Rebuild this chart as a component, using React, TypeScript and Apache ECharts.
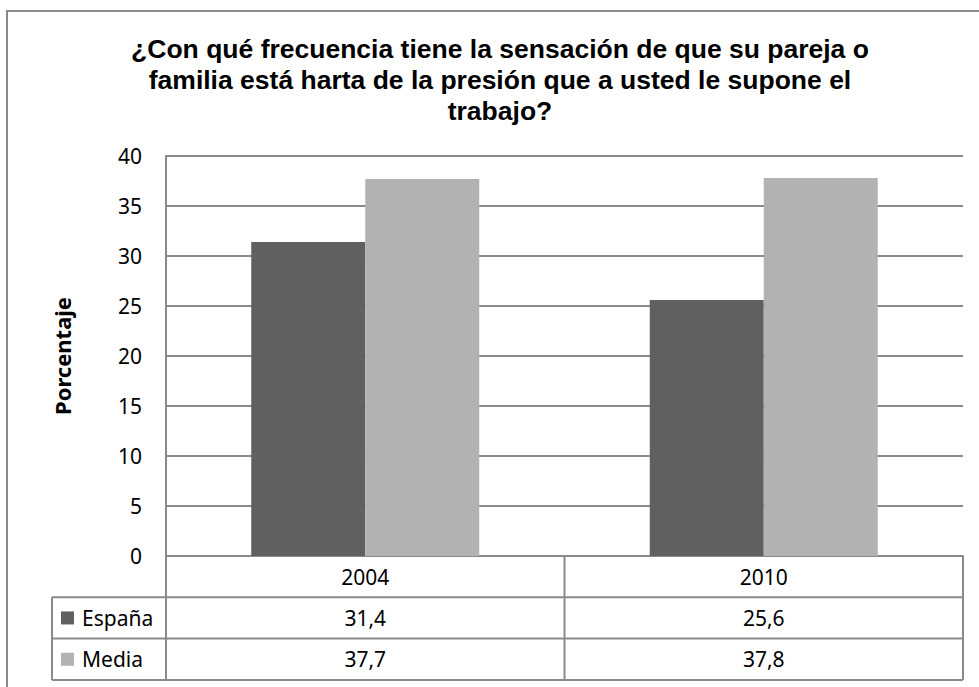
import React, { useEffect, useRef } from "react";
import * as echarts from "echarts";

const categories = ["2004", "2010"];
const seriesNames = ["España", "Media"];
const espana = [31.4, 25.6];
const media = [37.7, 37.8];
const tableValues = [["31,4", "25,6"], ["37,7", "37,8"]];
const yTicks = { min: 0, max: 40, interval: 5 };
const titleLines = [
  "¿Con qué frecuencia tiene la sensación de que su pareja o",
  "familia está harta de la presión que a usted le supone el",
  "trabajo?",
];
const colors = ["#606060", "#b2b2b2"];
const LINE = "#8a8a8a";
const FONT = "Noto Sans";

export default function App() {
  const ref = useRef<HTMLDivElement>(null);
  useEffect(() => {
    if (!ref.current) return;
    const chart = echarts.init(ref.current, null, { renderer: "svg" });
    const gridLeft = 166, gridTop = 156, gridRight = 16, gridBottom = 131;
    chart.setOption({
      animation: false,
      grid: { left: gridLeft, top: gridTop, right: gridRight, bottom: gridBottom, containLabel: false },
      xAxis: {
        type: "category",
        data: categories,
        axisLine: { show: true, lineStyle: { color: LINE, width: 2 } },
        axisTick: { show: false },
        axisLabel: { show: true, color: "#000", fontFamily: FONT, fontSize: 21, margin: 10 },
      },
      yAxis: {
        type: "value",
        min: yTicks.min,
        max: yTicks.max,
        interval: yTicks.interval,
        name: "Porcentaje",
        nameLocation: "middle",
        nameRotate: 90,
        nameGap: 93,
        nameTextStyle: { fontFamily: FONT, fontSize: 22, fontWeight: "bold", color: "#000" },
        axisLine: { show: true, lineStyle: { color: LINE, width: 2 } },
        axisTick: { show: false },
        splitLine: { show: true, lineStyle: { color: LINE, width: 2 } },
        axisLabel: { color: "#000", fontFamily: FONT, fontSize: 21, margin: 24 },
      },
      series: [
        { name: seriesNames[0], type: "bar", data: espana, barWidth: 114, barGap: "0%", itemStyle: { color: colors[0] } },
        { name: seriesNames[1], type: "bar", data: media, barWidth: 114, barGap: "0%", itemStyle: { color: colors[1] } },
      ],
    });

    const c0 = chart.convertToPixel({ xAxisIndex: 0 }, categories[0]) as number;
    const c1 = chart.convertToPixel({ xAxisIndex: 0 }, categories[1]) as number;
    const half = (c1 - c0) / 2;
    const xs = categories.map((c) => chart.convertToPixel({ xAxisIndex: 0 }, c) as number);
    const left = c0 - half;
    const right = c1 + half;
    const mid = c0 + half;
    const y0 = chart.convertToPixel({ yAxisIndex: 0 }, 0) as number;
    const rowH = 41.3;
    const tableLeft = 52;
    const ln = (x1: number, y1: number, x2: number, y2: number) => ({
      type: "line",
      shape: { x1, y1, x2, y2 },
      style: { stroke: LINE, lineWidth: 2 },
      silent: true,
    });
    const graphics: any[] = [];
    graphics.push({
      type: "rect",
      shape: { x: 7, y: 11, width: 1000, height: 700 },
      style: { fill: "none", stroke: LINE, lineWidth: 2 },
      silent: true,
    });
    titleLines.forEach((t, i) => {
      graphics.push({
        type: "text",
        x: 500,
        y: 49 + i * 31,
        style: {
          text: t,
          fontFamily: "Liberation Sans",
          fontWeight: "bold",
          fontSize: 26.5,
          fill: "#000",
          align: "center",
          verticalAlign: "middle",
        },
        silent: true,
      });
    });
    graphics.push(ln(left, y0, left, y0 + 3 * rowH));
    graphics.push(ln(mid, y0, mid, y0 + 3 * rowH));
    graphics.push(ln(right, y0, right, y0 + 3 * rowH));
    graphics.push(ln(tableLeft, y0 + rowH, tableLeft, y0 + 3 * rowH));
    for (let r = 1; r <= 3; r++) graphics.push(ln(tableLeft, y0 + r * rowH, right, y0 + r * rowH));
    seriesNames.forEach((name, r) => {
      const cy = y0 + (r + 1.5) * rowH;
      graphics.push({
        type: "rect",
        shape: { x: 61, y: cy - 6.5, width: 13, height: 13 },
        style: { fill: colors[r] },
        silent: true,
      });
      graphics.push({
        type: "text",
        x: 82,
        y: cy,
        style: { text: name, fontFamily: FONT, fontSize: 21, fill: "#000", align: "left", verticalAlign: "middle" },
        silent: true,
      });
      tableValues[r].forEach((v, c) => {
        graphics.push({
          type: "text",
          x: xs[c],
          y: cy,
          style: { text: v, fontFamily: FONT, fontSize: 21, fill: "#000", align: "center", verticalAlign: "middle" },
          silent: true,
        });
      });
    });
    chart.setOption({ graphic: graphics });
    return () => chart.dispose();
  }, []);
  return <div ref={ref} style={{ position: "absolute", left: 0, top: 0, width: 979, height: 687, background: "#fff" }} />;
}
